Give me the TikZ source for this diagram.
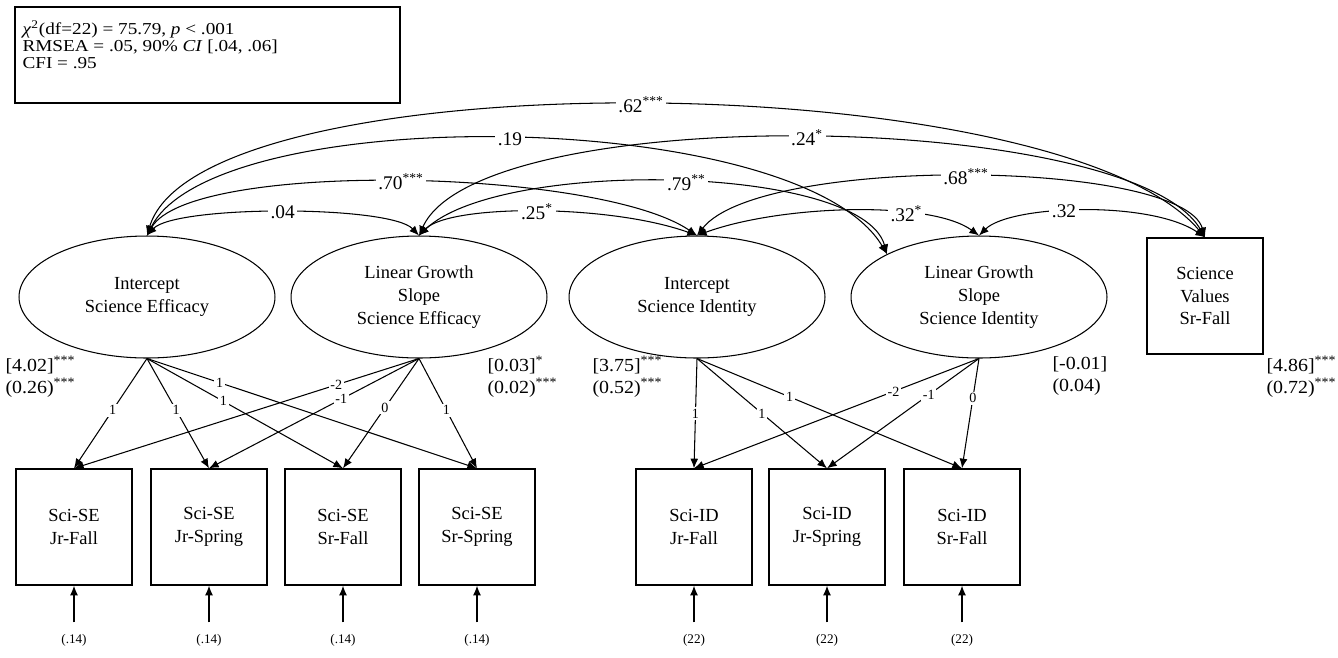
\documentclass[tikz,border=0pt]{standalone}
\usepackage{fontspec}
\setmainfont{Liberation Serif}
\newfontfamily\widefont[FakeStretch=1.15]{Liberation Serif}
\newfontfamily\semiwide[FakeStretch=1.08]{Liberation Serif}
\usetikzlibrary{arrows.meta,shapes.geometric}

\begin{document}
\begin{tikzpicture}[x=0.02cm,y=-0.02cm,line width=.6pt,
  >={Latex[length=5.5pt,width=4.5pt]},
  latent/.style={ellipse,draw,minimum width=5.12cm,minimum height=2.44cm,
    align=center,font=\fontsize{10.5}{13}\selectfont},
  obsbox/.style={rectangle,draw,line width=.8pt,minimum width=2.32cm,
    minimum height=2.32cm,align=center,font=\fontsize{10.5}{13}\selectfont},
  covar/.style={<->},
  cl/.style={fill=white,inner sep=1.5pt,font=\fontsize{11}{13}\selectfont},
  ld/.style={fill=white,inner sep=1pt,font=\fontsize{8}{9}\selectfont},
  ev/.style={font=\fontsize{7.5}{9}\selectfont},
  mv/.style={anchor=north west,align=left,inner sep=0pt,
    font=\semiwide\fontsize{10.5}{12.5}\selectfont}]
\useasboundingbox (0,0) rectangle (1338,657);

% fit indices
\draw (15,7) rectangle (400,103);
\node[anchor=north west,align=left,inner sep=0pt,
  font=\widefont\fontsize{9.5}{9.4}\selectfont] (fit) at (22,20)
  {\textit{χ}\textsuperscript{2}(df=22) = 75.79, \textit{p} < .001\\
   RMSEA = .05, 90\% \textit{CI} [.04, .06]\\
   CFI = .95};

% growth factors
\node[latent] (ise) at (147,297) {Intercept\\Science Efficacy};
\node[latent] (sse) at (419,297) {Linear Growth\\Slope\\Science Efficacy};
\node[latent] (isi) at (697,297) {Intercept\\Science Identity};
\node[latent] (ssi) at (979,297) {Linear Growth\\Slope\\Science Identity};
\node[obsbox] (val) at (1205,296) {Science\\Values\\Sr-Fall};

% indicators
\node[obsbox] (se1) at (74,527) {Sci-SE\\Jr-Fall};
\node[obsbox] (se2) at (209,527) {Sci-SE\\Jr-Spring};
\node[obsbox] (se3) at (343,527) {Sci-SE\\Sr-Fall};
\node[obsbox] (se4) at (477,527) {Sci-SE\\Sr-Spring};
\node[obsbox] (id1) at (694,527) {Sci-ID\\Jr-Fall};
\node[obsbox] (id2) at (827,527) {Sci-ID\\Jr-Spring};
\node[obsbox] (id3) at (962,527) {Sci-ID\\Sr-Fall};

% means and variances
\node[mv] (m1) at (5,356) {[4.02]\textsuperscript{***}\\(0.26)\textsuperscript{***}};
\node[mv] (m2) at (487,356) {[0.03]\textsuperscript{*}\\(0.02)\textsuperscript{***}};
\node[mv] (m3) at (592,356) {[3.75]\textsuperscript{***}\\(0.52)\textsuperscript{***}};
\node[mv] (m4) at (1052,356) {[-0.01]\\(0.04)};
\node[mv] (m5) at (1266,356) {[4.86]\textsuperscript{***}\\(0.72)\textsuperscript{***}};

% covariances
\draw[covar] (ise.north) .. controls (200,58) and (1059,64) .. node[cl,pos=.5] {.62\textsuperscript{***}} (val.north);
\draw[covar] (ise.north) .. controls (215,100) and (800,107) .. node[cl,pos=.5] {.19} (ssi.155);
\draw[covar] (sse.north) .. controls (480,100) and (1131,110) .. node[cl,pos=.5] {.24\textsuperscript{*}} (val.north);
\draw[covar] (ise.north) .. controls (190,160) and (598,168) .. node[cl,pos=.5] {.70\textsuperscript{***}} (isi.north);
\draw[covar] (sse.north) .. controls (500,158) and (862,164) .. node[cl,pos=.52] {.79\textsuperscript{**}} (ssi.155);
\draw[covar] (isi.north) .. controls (760,155) and (1182,159) .. node[cl,pos=.5] {.68\textsuperscript{***}} (val.north);
\draw[covar] (ise.north) .. controls (175,205) and (390,205) .. node[cl,pos=.5] {.04} (sse.north);
\draw[covar] (sse.north) .. controls (450,204) and (610,204) .. node[cl,pos=.5] {.25\textsuperscript{*}} (isi.north);
\draw[covar] (isi.north) .. controls (780,205) and (930,200) .. node[cl,pos=.68] {.32\textsuperscript{*}} (ssi.north);
\draw[covar] (ssi.north) .. controls (1010,205) and (1150,200) .. node[cl,pos=.43] {.32} (val.north);

% loadings
\draw[->] (ise.south) -- node[ld,pos=.47] {1} (se1.north);
\draw[->] (ise.south) -- node[ld,pos=.47] {1} (se2.north);
\draw[->] (ise.south) -- node[ld,pos=.39] {1} (se3.north);
\draw[->] (ise.south) -- node[ld,pos=.22] {1} (se4.north);
\draw[->] (sse.south) -- node[ld,pos=.24] {-2} (se1.north);
\draw[->] (sse.south) -- node[ld,pos=.37] {-1} (se2.north);
\draw[->] (sse.south) -- node[ld,pos=.45] {0} (se3.north);
\draw[->] (sse.south) -- node[ld,pos=.47] {1} (se4.north);
\draw[->] (isi.south) -- node[ld,pos=.5] {1} (id1.north);
\draw[->] (isi.south) -- node[ld,pos=.5] {1} (id2.north);
\draw[->] (isi.south) -- node[ld,pos=.35] {1} (id3.north);
\draw[->] (ssi.south) -- node[ld,pos=.3] {-2} (id1.north);
\draw[->] (ssi.south) -- node[ld,pos=.33] {-1} (id2.north);
\draw[->] (ssi.south) -- node[ld,pos=.36] {0} (id3.north);

% residuals
\node[ev] (e1) at (74,640) {(.14)};
\node[ev] (e2) at (209,640) {(.14)};
\node[ev] (e3) at (343,640) {(.14)};
\node[ev] (e4) at (477,640) {(.14)};
\node[ev] (e5) at (694,640) {(22)};
\node[ev] (e6) at (827,640) {(22)};
\node[ev] (e7) at (962,640) {(22)};
\draw[->,shorten <=3pt] (e1) -- (se1);
\draw[->,shorten <=3pt] (e2) -- (se2);
\draw[->,shorten <=3pt] (e3) -- (se3);
\draw[->,shorten <=3pt] (e4) -- (se4);
\draw[->,shorten <=3pt] (e5) -- (id1);
\draw[->,shorten <=3pt] (e6) -- (id2);
\draw[->,shorten <=3pt] (e7) -- (id3);
\end{tikzpicture}
\end{document}
